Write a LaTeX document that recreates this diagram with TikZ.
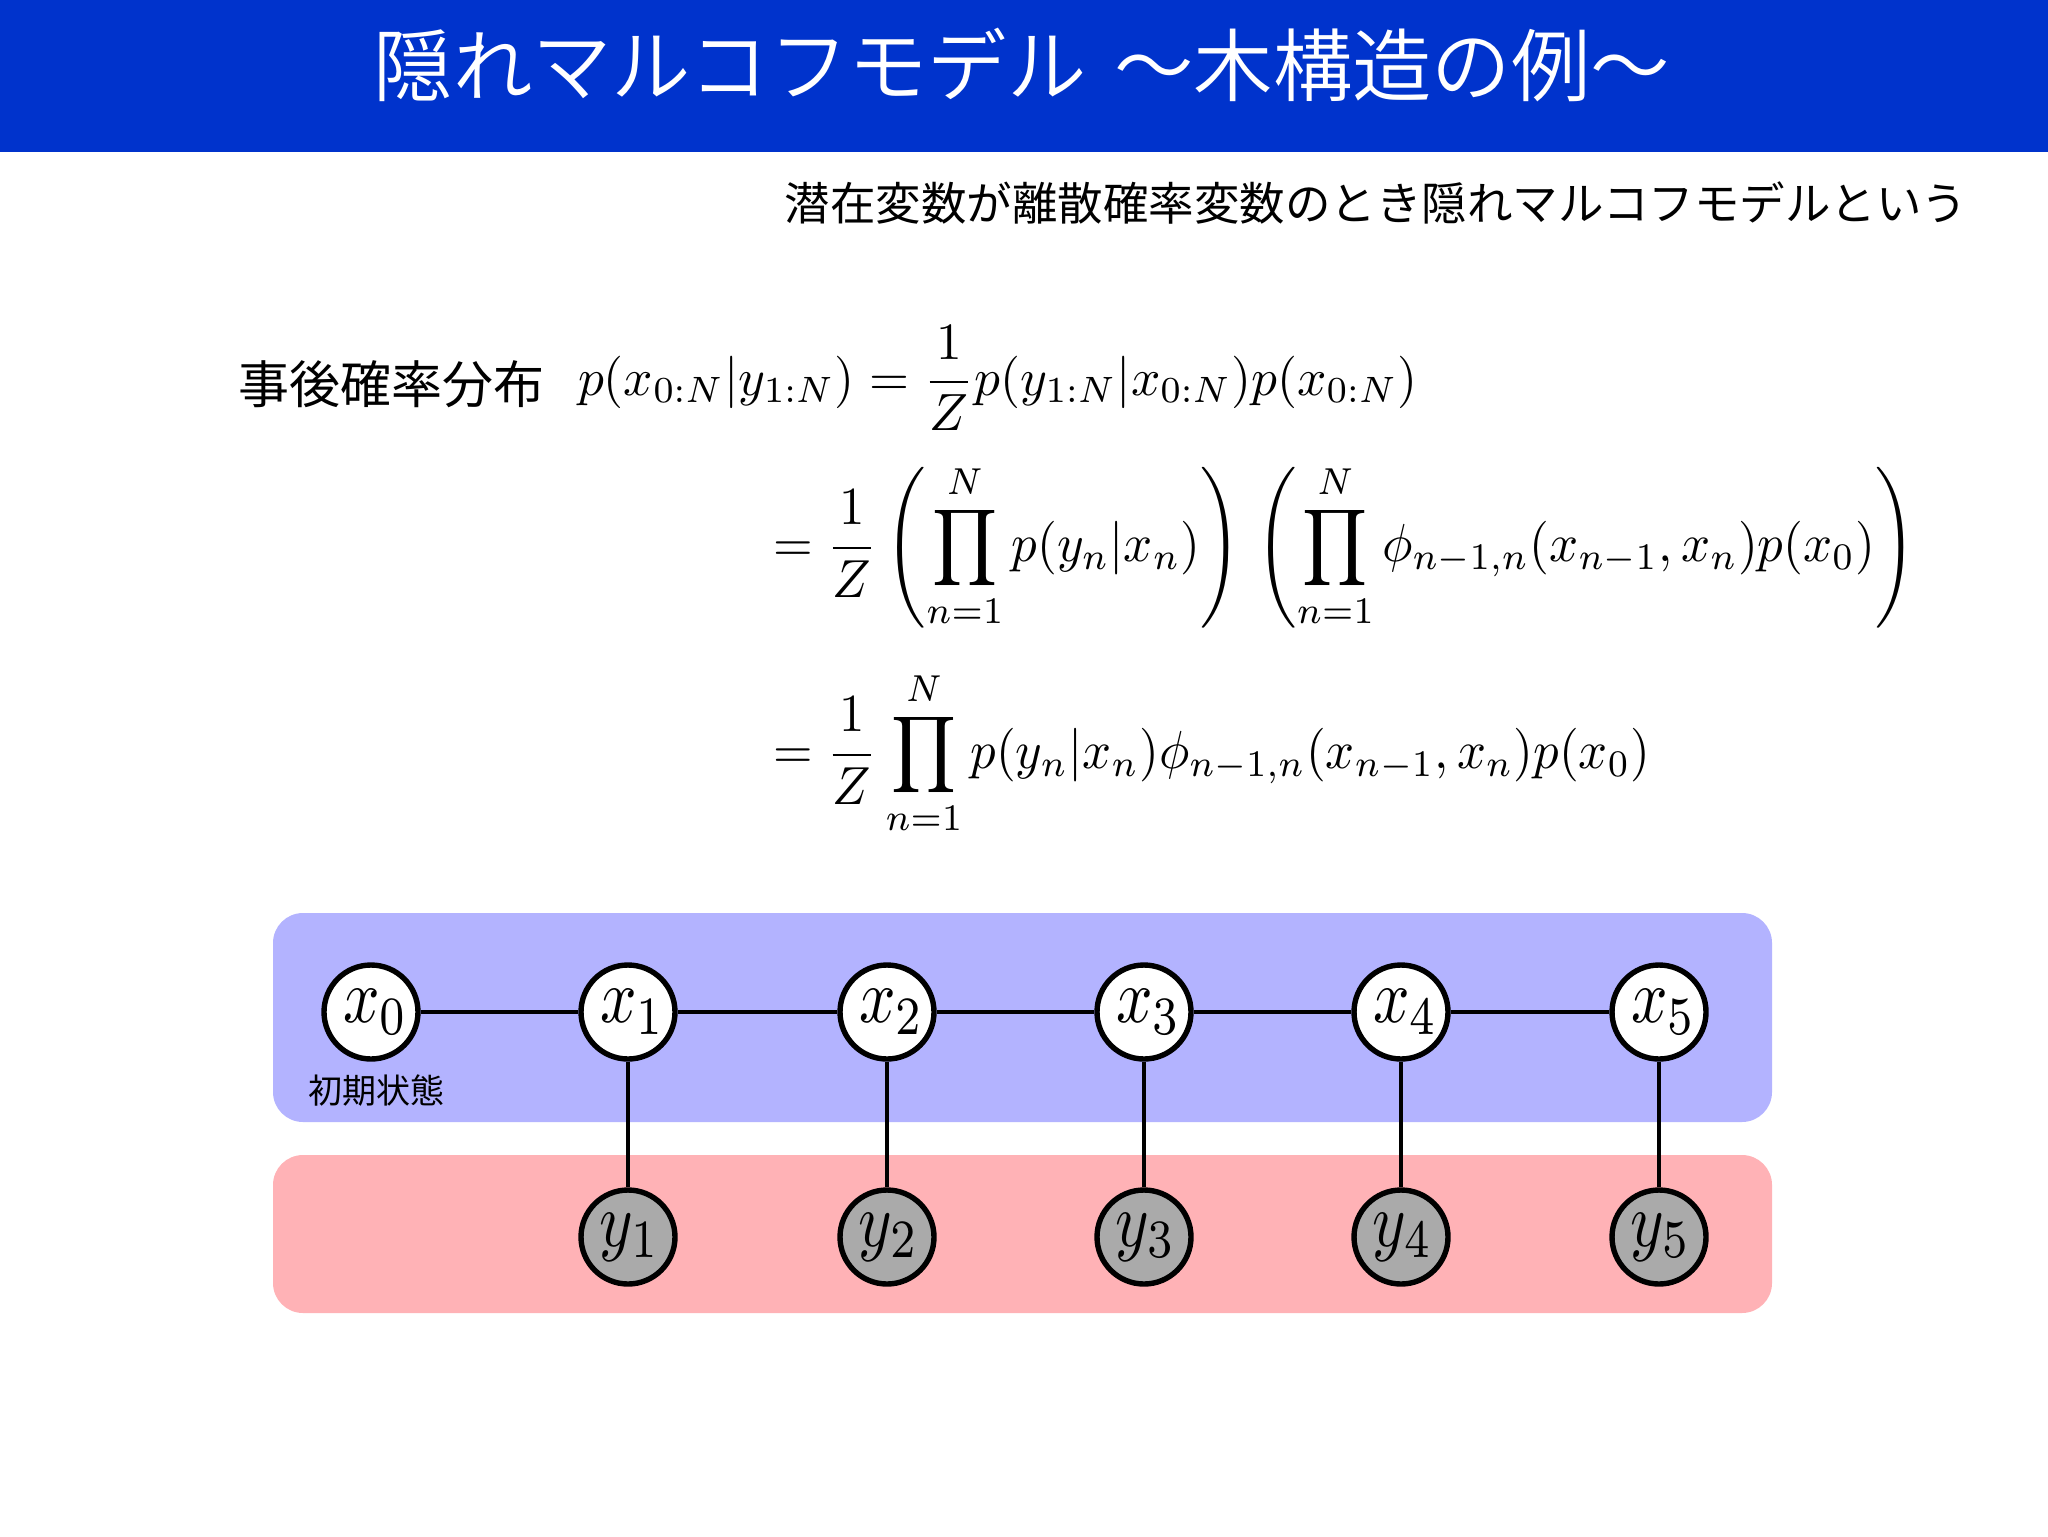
\documentclass[tikz,border=0pt]{standalone}
\usepackage{amsmath}
\usepackage{fontspec}
\newfontfamily\jpfont{Noto Sans CJK JP}
\newfontfamily\jplight{Noto Sans CJK JP DemiLight}
\definecolor{bandblue}{HTML}{0033CC}
\definecolor{panelblue}{HTML}{B3B3FF}
\definecolor{panelred}{HTML}{FFB2B6}
\definecolor{obsgray}{HTML}{AAAAAA}
\newcommand{\varlabel}[1]{\scalebox{3.2}[3.85]{$#1$}}
\begin{document}
\begin{tikzpicture}[
  x=0.5pt, y=-0.5pt,
  panel/.style = {rounded corners=15pt},
  eqline/.style = {anchor=base west, inner sep=0},
  latent/.style = {shape=circle, draw, line width=2.7pt, fill=white, minimum size=47pt, inner sep=0},
  observed/.style = {latent, fill=obsgray},
  link/.style = {line width=2.2pt}
]
  \useasboundingbox (0,0) rectangle (2048,1536);
  \fill[bandblue] (0,0) rectangle (2048,152);
  \node (title) at (1022,65) [text=white, font=\jplight\fontsize{39.7}{44}\selectfont] {隠れマルコフモデル\hspace{5pt} 〜木構造の例〜};
  \node (note) at (1376,203) [font=\jpfont\fontsize{22.75}{26}\selectfont] {潜在変数が離散確率変数のとき隠れマルコフモデルという};

  \node (post) at (391,384) [font=\jpfont\fontsize{25.5}{30}\selectfont] {事後確率分布};
  \node (eqa) at (577,395) [eqline, xscale=2.57, yscale=2.62] {$\displaystyle p(x_{0:N}|y_{1:N}) = \frac{1}{Z}p(y_{1:N}|x_{0:N})p(x_{0:N})$};
  \node (eqb) at (772,561) [eqline, xscale=2.548, yscale=2.68] {$\displaystyle = \frac{1}{Z}\left(\prod_{n=1}^{N}p(y_n|x_n)\right)\mkern2.5mu\left(\prod_{n=1}^{N}\phi_{n-1,n}(x_{n-1},x_n)p(x_0)\right)$};
  \node (eqc) at (772,768) [eqline, xscale=2.54, yscale=2.68] {$\displaystyle = \frac{1}{Z}\prod_{n=1}^{N}p(y_n|x_n)\phi_{n-1,n}(x_{n-1},x_n)p(x_0)$};

  \fill[panelblue, panel] (273,913) rectangle (1772,1122);
  \fill[panelred, panel] (273,1155) rectangle (1772,1313);

  \foreach \i/\xpos in {0/371, 1/628, 2/887, 3/1144, 4/1401, 5/1659}
    \node (x\i) at (\xpos,1012) [latent] {\hspace{5pt}\varlabel{x_\i}};
  \foreach \i/\xpos in {1/628, 2/887, 3/1144, 4/1401, 5/1659}
    \node (y\i) at (\xpos,1237) [observed] {\hspace{2pt}\varlabel{y_\i}};
  \node (init) at (376,1091) [font=\jpfont\fontsize{17}{20}\selectfont] {初期状態};

  \foreach \a/\b in {0/1, 1/2, 2/3, 3/4, 4/5}
    \draw[link] (x\a) -- (x\b);
  \foreach \i in {1,...,5}
    \draw[link] (x\i) -- (y\i);
\end{tikzpicture}
\end{document}
